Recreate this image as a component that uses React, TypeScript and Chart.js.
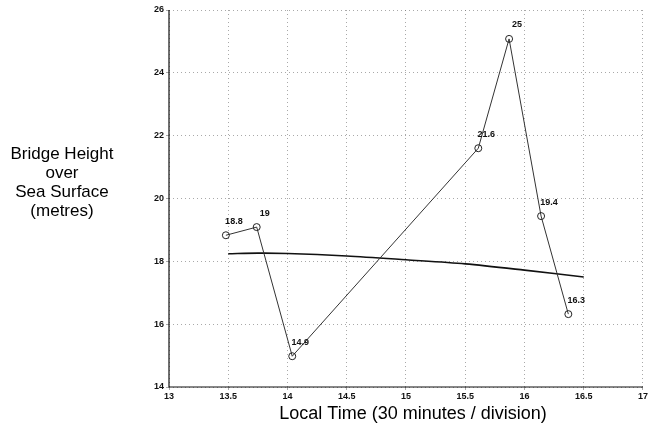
import React, { useEffect, useRef } from "react";
import { Chart, registerables } from "chart.js";

Chart.register(...registerables);

const obsTimes = [13.48, 13.74, 14.04, 15.61, 15.87, 16.14, 16.37];
const obsHeights = [18.83, 19.09, 14.98, 21.6, 25.08, 19.44, 16.32];
const obsLabels = ["18.8", "19", "14.9", "21.6", "25", "19.4", "16.3"];

const trendTimes = [13.5, 13.75, 14, 14.5, 15, 15.5, 16, 16.5];
const trendHeights = [18.24, 18.26, 18.25, 18.17, 18.05, 17.92, 17.72, 17.5];

const yTitleLines = ["Bridge Height", "over", "Sea Surface", "(metres)"];
const xTitle = "Local Time (30 minutes / division)";

const FONT = "Arial, 'Liberation Sans', sans-serif";

const labelPlugin = {
  id: "pointLabels",
  afterDatasetsDraw(chart: any) {
    const ctx = chart.ctx;
    const meta = chart.getDatasetMeta(0);
    ctx.save();
    ctx.font = `bold 9px ${FONT}`;
    ctx.fillStyle = "#111";
    ctx.textAlign = "center";
    ctx.textBaseline = "middle";
    meta.data.forEach((pt: any, i: number) => {
      ctx.fillText(obsLabels[i], pt.x + 8, pt.y - 14);
    });
    ctx.restore();
  },
};

const titlesPlugin = {
  id: "titles",
  afterDraw(chart: any) {
    const ctx = chart.ctx;
    ctx.save();
    ctx.font = `17px ${FONT}`;
    ctx.fillStyle = "#000";
    ctx.textAlign = "center";
    ctx.textBaseline = "middle";
    yTitleLines.forEach((line, i) => {
      ctx.fillText(line, 62, 154 + i * 19);
    });
    ctx.font = `18px ${FONT}`;
    ctx.fillText(xTitle, 413, 414);
    ctx.restore();
  },
};

const framePlugin = {
  id: "frame",
  afterDatasetsDraw(chart: any) {
    const { ctx, chartArea } = chart;
    ctx.save();
    ctx.strokeStyle = "#111";
    ctx.lineWidth = 1.2;
    ctx.beginPath();
    ctx.moveTo(chartArea.left, chartArea.top);
    ctx.lineTo(chartArea.left, chartArea.bottom);
    ctx.lineTo(chartArea.right, chartArea.bottom);
    ctx.stroke();
    ctx.restore();
  },
};

export default function App() {
  const ref = useRef<HTMLCanvasElement>(null);
  useEffect(() => {
    const chart = new Chart(ref.current!, {
      type: "scatter",
      data: {
        datasets: [
          {
            label: "Observed",
            data: obsTimes.map((t, i) => ({ x: t, y: obsHeights[i] })),
            showLine: true,
            borderColor: "#333",
            borderWidth: 1,
            pointStyle: "circle",
            pointRadius: 3.5,
            pointBorderColor: "#222",
            pointBorderWidth: 1,
            pointBackgroundColor: "rgba(255,255,255,0)",
          },
          {
            label: "Trend",
            data: trendTimes.map((t, i) => ({ x: t, y: trendHeights[i] })),
            showLine: true,
            borderColor: "#111",
            borderWidth: 1.6,
            pointRadius: 0,
            tension: 0.3,
          },
        ],
      },
      options: {
        animation: false,
        responsive: false,
        maintainAspectRatio: false,
        layout: { padding: { top: 10, right: 3, left: 0, bottom: 0 } },
        plugins: {
          legend: { display: false },
          tooltip: { enabled: false },
        },
        scales: {
          x: {
            type: "linear",
            min: 13,
            max: 17,
            afterFit: (s: any) => {
              s.height = 45;
            },
            ticks: {
              stepSize: 0.5,
              padding: 1,
              maxRotation: 0,
              autoSkip: false,
              color: "#111",
              font: { size: 9, weight: "bold", family: FONT },
              callback: (v: any) => String(v),
            },
            grid: {
              color: "rgba(110,110,110,0.75)",
              lineWidth: 0.8,
              tickLength: 3,
            },
            border: { display: false, dash: [1, 3] },
          },
          y: {
            min: 14,
            max: 26,
            afterFit: (s: any) => {
              s.width = 169;
            },
            ticks: {
              stepSize: 2,
              padding: 2,
              color: "#111",
              font: { size: 9, weight: "bold", family: FONT },
            },
            grid: {
              color: "rgba(110,110,110,0.75)",
              lineWidth: 0.8,
              tickLength: 3,
            },
            border: { display: false, dash: [1, 3] },
          },
        },
      } as any,
      plugins: [framePlugin, labelPlugin, titlesPlugin],
    });
    return () => chart.destroy();
  }, []);
  return (
    <div style={{ position: "fixed", left: 0, top: 0, width: 649, height: 432, background: "#fff" }}>
      <canvas ref={ref} width={649} height={432} />
    </div>
  );
}
